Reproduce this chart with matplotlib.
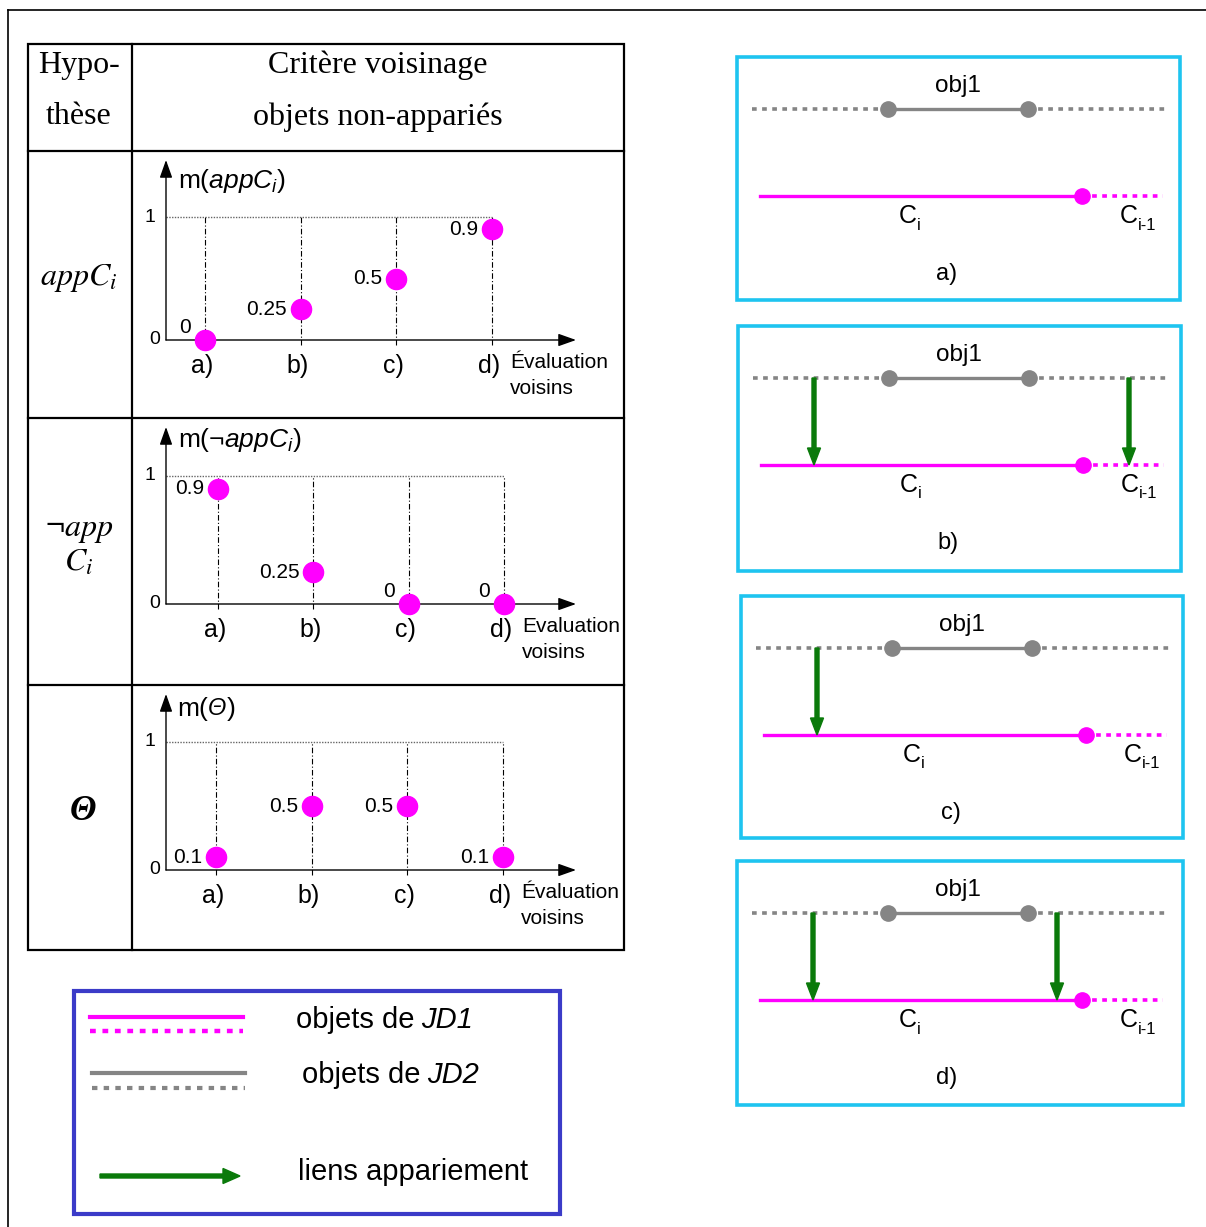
import matplotlib
matplotlib.use('Agg')
import matplotlib.pyplot as plt
from matplotlib.patches import Rectangle

plt.rcParams['font.family'] = ['Liberation Sans', 'DejaVu Sans']
plt.rcParams['mathtext.fontset'] = 'custom'
plt.rcParams['mathtext.rm'] = 'Liberation Sans'
plt.rcParams['mathtext.it'] = 'Liberation Sans:italic'

# --- data -------------------------------------------------------------
categories = ['a)', 'b)', 'c)', 'd)']
m_appC = [0, 0.25, 0.5, 0.9]
m_not_appC = [0.9, 0.25, 0, 0]
m_theta = [0.1, 0.5, 0.5, 0.1]
chart_titles = [r'm($appC_i$)', r'm($\neg appC_i$)', None]
eval_labels = ['Évaluation', 'Evaluation', 'Évaluation']
panel_letters = ['a)', 'b)', 'c)', 'd)']
panel_links = [[], [76, 391], [76], [76, 320]]   # x of matching links in each case
legend_labels = [('objets de', 'JD1'), ('objets de', 'JD2'), ('liens appariement', '')]

W, H = 1206, 1227
MAG = '#ff00ff'
GRAY = '#858585'
GREEN = '#0a7a0a'
CYAN = '#1ec4f0'
BLUE = '#3b3bc8'
DOT = (0, (1.3, 1.5))

fig = plt.figure(figsize=(W / 100, H / 100), dpi=100)
bg = fig.add_axes([0, 0, 1, 1])
bg.set_xlim(0, W)
bg.set_ylim(H, 0)
bg.axis('off')
renderer = fig.canvas.get_renderer()

# outer frame (only top and left visible)
bg.plot([8, W], [10, 10], color='black', lw=1.2)
bg.plot([8, 8], [10, H], color='black', lw=1.2)

# table grid
bg.add_patch(Rectangle((28, 44), 596, 906, fill=False, ec='black', lw=1.6))
bg.plot([132, 132], [44, 950], color='black', lw=1.6)
for y in [151, 418, 685]:
    bg.plot([28, 624], [y, y], color='black', lw=1.6)

serif = dict(family='Liberation Serif', fontsize=23, ha='center', va='center')
bg.text(79, 66, 'Hypo-', **serif)
bg.text(79, 117, 'thèse', **serif)
bg.text(378, 65, 'Critère voisinage', **serif)
bg.text(378, 117, 'objets non-appariés', **serif)
bg.text(79, 278, r'$appC_i$', math_fontfamily='stix', fontsize=23, ha='center', va='center')
bg.text(79, 530, r'$\neg app$', math_fontfamily='stix', fontsize=23, ha='center', va='center')
bg.text(79, 563, r'$C_i$', math_fontfamily='stix', fontsize=23, ha='center', va='center')
bg.text(83, 812, 'Θ', family='Liberation Serif', style='italic', weight='bold',
        fontsize=25, ha='center', va='center')


def chart(values, title, evl, top, bottom, px_a, px_d, py0, py1):
    x0, x1 = 134, 622
    ax = fig.add_axes([x0 / W, 1 - bottom / H, (x1 - x0) / W, (bottom - top) / H])
    sp = (px_d - px_a) / 3
    h = py0 - py1
    ax.set_xlim((x0 - px_a) / sp, (x1 - px_a) / sp)
    ax.set_ylim((py0 - bottom) / h, (py0 - top) / h)
    ax.axis('off')
    xo = (166 - px_a) / sp
    xend = (576 - px_a) / sp
    ytop = (py0 - (top + 9)) / h
    xs = list(range(len(values)))

    head = dict(arrowstyle='-|>,head_length=0.9,head_width=0.32', color='black',
                lw=1, mutation_scale=12, shrinkA=0, shrinkB=0)
    ax.annotate('', xy=(xo, ytop), xytext=(xo, 0), arrowprops=head, annotation_clip=False)
    ax.annotate('', xy=(xend, 0), xytext=(xo, 0), arrowprops=head, annotation_clip=False)
    ax.hlines(1, xo, 3, colors='#666666', linestyles=(0, (1, 1)), lw=1)
    ax.vlines(xs, -0.04, 1, colors='black', linestyles=(0, (5, 2, 1, 2)), lw=0.8)
    ax.plot(xs, values, 'o', color=MAG, ms=14.5, clip_on=False, zorder=5)

    for x, v in zip(xs, values):
        dy = 9 if v == 0 else 0
        ax.annotate(f'{v:g}', (x, v), xytext=(-10, dy), textcoords='offset points',
                    ha='right', va='center', fontsize=15)
    for x, lab in zip(xs, categories):
        ax.annotate(lab, (x, 0), xytext=(-2, -19), textcoords='offset points',
                    ha='center', va='center', fontsize=18)
    ax.annotate('1', (xo, 1), xytext=(-8, 0), textcoords='offset points',
                ha='right', va='center', fontsize=14)
    ax.annotate('0', (xo, 0), xytext=(-4, 0), textcoords='offset points',
                ha='right', va='center', fontsize=14)
    if title is not None:
        ax.annotate(title, (xo, 1), xytext=(9, 26), textcoords='offset points',
                    ha='left', va='center', fontsize=19)
    else:
        ax.annotate('m(', (xo, 1), xytext=(8, 24), textcoords='offset points',
                    ha='left', va='center', fontsize=19)
        ax.annotate('Θ', (xo, 1), xytext=(30, 24), textcoords='offset points',
                    ha='left', va='center', fontsize=17, style='italic')
        ax.annotate(')', (xo, 1), xytext=(43.5, 24), textcoords='offset points',
                    ha='left', va='center', fontsize=19)
    ax.annotate(evl, (3, 0), xytext=(13, -16), textcoords='offset points',
                ha='left', va='center', fontsize=15)
    ax.annotate('voisins', (3, 0), xytext=(13, -35), textcoords='offset points',
                ha='left', va='center', fontsize=15)


chart(m_appC, chart_titles[0], eval_labels[0], 151, 418, 205, 492, 340, 217)
chart(m_not_appC, chart_titles[1], eval_labels[1], 418, 685, 218, 504, 604, 476)
chart(m_theta, chart_titles[2], eval_labels[2], 685, 950, 216, 503, 870, 742)


def sub_label(x, y, sub):
    bg.text(x, y, 'C', fontsize=18, ha='left', va='center')
    bg.text(x + 18, y + 9, sub, fontsize=12, ha='left', va='center')


def panel(left, top, right, bottom, letter, links):
    bg.add_patch(Rectangle((left, top), right - left, bottom - top, fill=False, ec=CYAN, lw=2.6))
    gy, my = top + 52, top + 139
    bg.plot([left + 15, left + 151], [gy, gy], color=GRAY, lw=2.6, ls=DOT)
    bg.plot([left + 291, left + 428], [gy, gy], color=GRAY, lw=2.6, ls=DOT)
    bg.plot([left + 151, left + 291], [gy, gy], color=GRAY, lw=2.4, marker='o', ms=11)
    bg.plot([left + 23, left + 345], [my, my], color=MAG, lw=2.4)
    bg.plot([left + 345, left + 426], [my, my], color=MAG, lw=2.6, ls=DOT)
    bg.plot([left + 345], [my], 'o', color=MAG, ms=11)
    for off in links:
        bg.arrow(left + off, gy, 0, my - gy, width=4, head_width=13, head_length=17,
                 length_includes_head=True, color=GREEN, zorder=4)
    bg.text(left + 221, top + 29, 'obj1', fontsize=17.5, ha='center', va='center')
    sub_label(left + 162, top + 159, 'i')
    sub_label(left + 383, top + 159, 'i-1')
    bg.text(left + 210, top + 217, letter, fontsize=17, ha='center', va='center')


boxes = [(737, 57, 1180, 300), (738, 326, 1181, 571), (741, 596, 1183, 838), (737, 861, 1183, 1105)]
for box, letter, links in zip(boxes, panel_letters, panel_links):
    panel(*box, letter, links)

# legend
bg.add_patch(Rectangle((74, 991), 486, 223, fill=False, ec=BLUE, lw=3))
bg.plot([90, 243], [1017, 1017], color=MAG, lw=3)
bg.plot([90, 243], [1031, 1031], color=MAG, lw=3.2, ls=DOT)
bg.plot([92, 245], [1073, 1073], color=GRAY, lw=3)
bg.plot([92, 245], [1088, 1088], color=GRAY, lw=3, ls=DOT)
bg.arrow(100, 1176, 140, 0, width=4, head_width=15, head_length=17,
         length_includes_head=True, color=GREEN)
for (plain, ital), (x, y) in zip(legend_labels, [(296, 1020), (302, 1075), (298, 1172)]):
    t = bg.text(x, y, plain, fontsize=21, ha='left', va='center')
    if ital:
        x_end = t.get_window_extent(renderer).x1
        bg.text(x_end + 7, y, ital, fontsize=21, style='italic', ha='left', va='center')

fig.savefig('out.png', dpi=100)
